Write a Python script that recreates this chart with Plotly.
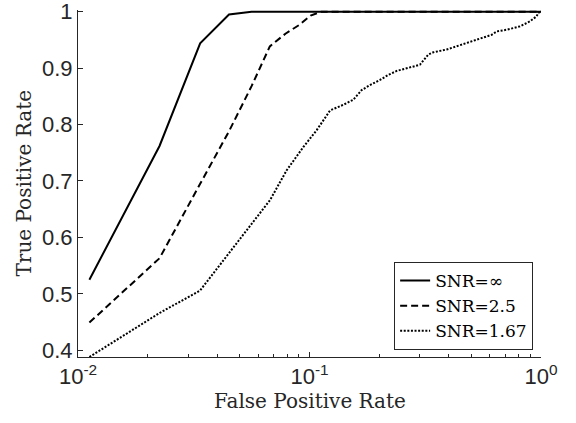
import plotly.graph_objects as go

# ---- data ----
fpr_inf = [0.0112, 0.0225, 0.0337, 0.0449, 0.0562, 1.0]
tpr_inf = [0.525, 0.762, 0.944, 0.995, 1.0, 1.0]

fpr_25 = [0.0112, 0.0225, 0.0337, 0.0449, 0.0562, 0.0674, 0.0787, 0.0899, 0.1011, 0.1124, 1.0]
tpr_25 = [0.449, 0.563, 0.695, 0.788, 0.868, 0.9385, 0.961, 0.976, 0.993, 1.0, 1.0]

fpr_167 = [0.0112, 0.0225, 0.0337, 0.0424, 0.0535, 0.0675, 0.0797, 0.094, 0.1074, 0.1227,
           0.140, 0.1546, 0.168, 0.1825, 0.2016, 0.219, 0.238, 0.2718, 0.300, 0.326,
           0.3425, 0.3915, 0.447, 0.4775, 0.545, 0.612, 0.644, 0.711, 0.812, 0.897,
           0.958, 0.973, 1.0]
tpr_167 = [0.388, 0.466, 0.506, 0.559, 0.6125, 0.666, 0.719, 0.760, 0.790, 0.825,
           0.835, 0.844, 0.861, 0.870, 0.879, 0.888, 0.895, 0.901, 0.906, 0.924,
           0.928, 0.933, 0.941, 0.944, 0.952, 0.959, 0.965, 0.968, 0.974, 0.983,
           0.992, 0.998, 1.0]

series_names = ["SNR=∞", "SNR=2.5", "SNR=1.67"]
x_ticks = [0.01, 0.1, 1]
x_ticktext = ["10<sup>-2</sup>", "10<sup>-1</sup>", "10<sup>0</sup>"]
y_ticks = [0.4, 0.5, 0.6, 0.7, 0.8, 0.9, 1.0]
y_ticktext = ["0.4", "0.5", "0.6", "0.7", "0.8", "0.9", "1"]
minor_x = [0.02, 0.03, 0.04, 0.05, 0.06, 0.07, 0.08, 0.09,
           0.2, 0.3, 0.4, 0.5, 0.6, 0.7, 0.8, 0.9]

AX = "#262626"
SERIF = "DejaVu Serif"
SANS = "Liberation Sans, Arial, sans-serif"

fig = go.Figure()
fig.add_trace(go.Scatter(x=fpr_inf, y=tpr_inf, mode="lines", name=series_names[0],
                         line=dict(color="black", width=2)))
fig.add_trace(go.Scatter(x=fpr_25, y=tpr_25, mode="lines", name=series_names[1],
                         line=dict(color="black", width=2, dash="7px,4px")))
fig.add_trace(go.Scatter(x=fpr_167, y=tpr_167, mode="lines", name=series_names[2],
                         line=dict(color="black", width=2, dash="2px,1.6px")))

fig.update_layout(
    width=576, height=423,
    margin=dict(l=78, r=35, t=10, b=66, autoexpand=False),
    paper_bgcolor="white", plot_bgcolor="white",
    showlegend=True,
    legend=dict(
        x=0.983, y=0.02, xanchor="right", yanchor="bottom",
        bgcolor="white", bordercolor=AX, borderwidth=1,
        font=dict(family=SERIF, size=17, color="black"),
        itemwidth=30, tracegroupgap=0,
    ),
    xaxis=dict(
        type="log", range=[-2, 0],
        tickmode="array", tickvals=x_ticks, ticktext=x_ticktext,
        ticks="inside", ticklen=5, tickwidth=1, tickcolor=AX,
        showline=True, linecolor=AX, linewidth=1,
        showgrid=False, zeroline=False, automargin=False,
        ticklabeloverflow="allow",
        tickfont=dict(family=SANS, size=22, color=AX),
        minor=dict(tickmode="array", tickvals=minor_x, ticks="inside",
                   ticklen=3, tickwidth=1, tickcolor=AX, showgrid=False),
    ),
    yaxis=dict(
        range=[0.388, 1.003],
        tickmode="array", tickvals=y_ticks, ticktext=y_ticktext,
        ticks="inside", ticklen=5, tickwidth=1, tickcolor=AX,
        showline=True, linecolor=AX, linewidth=1,
        showgrid=False, zeroline=False, automargin=False,
        ticklabeloverflow="allow",
        tickfont=dict(family=SANS, size=22, color=AX),
    ),
    annotations=[
        dict(text="False Positive Rate", xref="paper", yref="paper",
             x=0.5, y=0, yshift=-44, xanchor="center", yanchor="middle",
             showarrow=False, font=dict(family=SERIF, size=20, color=AX)),
        dict(text="True Positive Rate", xref="paper", yref="paper",
             x=0, y=0.5, xshift=-55, xanchor="center", yanchor="middle",
             textangle=-90, showarrow=False,
             font=dict(family=SERIF, size=20, color=AX)),
    ],
)

fig.write_html("out.html")
